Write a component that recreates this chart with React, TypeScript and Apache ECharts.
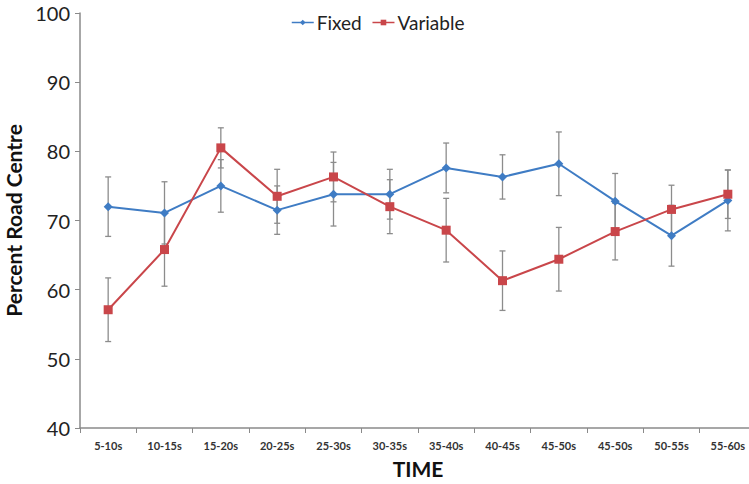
import React, { useEffect, useRef } from "react";
import * as echarts from "echarts";

const categories = ["5-10s", "10-15s", "15-20s", "20-25s", "25-30s", "30-35s", "35-40s", "40-45s", "45-50s", "45-50s", "50-55s", "55-60s"];
const fixedValues = [72.0, 71.1, 75.0, 71.5, 73.8, 73.8, 77.6, 76.3, 78.2, 72.8, 67.8, 72.9];
const fixedErrors = [4.3, 4.5, 3.8, 3.5, 4.6, 3.6, 3.6, 3.2, 4.6, 4.0, 4.4, 4.4];
const variableValues = [57.1, 65.8, 80.5, 73.5, 76.3, 72.0, 68.6, 61.3, 64.4, 68.4, 71.6, 73.8];
const variableErrors = [4.6, 5.3, 2.9, 3.9, 3.6, 3.9, 4.6, 4.3, 4.6, 4.1, 3.5, 3.5];
const yTicks = [40, 50, 60, 70, 80, 90, 100];

const FONT = "Lato, 'Open Sans', sans-serif";
const BLUE = "#3f7cc4";
const RED = "#c9464a";
const ERR = "#8c8c8c";

function errData(vals: number[], errs: number[]) {
  return vals.map((v, i) => [i, v - errs[i], v + errs[i]]);
}

function renderErr(params: any, api: any) {
  const x = api.value(0);
  const lo = api.coord([x, api.value(1)]);
  const hi = api.coord([x, api.value(2)]);
  const cap = 3;
  const style = { stroke: ERR, lineWidth: 1.3 };
  return {
    type: "group",
    children: [
      { type: "line", shape: { x1: lo[0], y1: lo[1], x2: hi[0], y2: hi[1] }, style },
      { type: "line", shape: { x1: lo[0] - cap, y1: lo[1], x2: lo[0] + cap, y2: lo[1] }, style },
      { type: "line", shape: { x1: hi[0] - cap, y1: hi[1], x2: hi[0] + cap, y2: hi[1] }, style },
    ],
  };
}

export default function App() {
  const ref = useRef<HTMLDivElement>(null);
  useEffect(() => {
    document.body.style.margin = "0";
    const chart = echarts.init(ref.current!, null, { renderer: "svg" });
    chart.setOption({
      animation: false,
      backgroundColor: "#ffffff",
      legend: {
        top: 8,
        left: 286,
        itemWidth: 22,
        itemHeight: 7,
        itemGap: 10,
        lineStyle: { width: 1.5 },
        textStyle: { fontFamily: FONT, fontSize: 19, color: "#222", padding: [0, 0, 0, -2] },
        data: ["Fixed", "Variable"],
      },
      grid: { left: 80, top: 13, width: 676, height: 415, containLabel: false, outerBoundsMode: "none" },
      xAxis: {
        type: "category",
        data: categories,
        boundaryGap: true,
        name: "TIME",
        nameLocation: "middle",
        nameGap: 30,
        nameTextStyle: { fontFamily: FONT, fontSize: 21, fontWeight: "bold", color: "#111" },
        axisLine: { lineStyle: { color: "#8a8a8a", width: 1.5 } },
        axisTick: { show: true, alignWithLabel: false, length: 5, lineStyle: { color: "#8a8a8a" } },
        axisLabel: { fontFamily: FONT, fontSize: 11, fontWeight: "bold", color: "#333", margin: 12, interval: 0 },
        splitLine: { show: false },
      },
      yAxis: {
        type: "value",
        min: 40,
        max: 100,
        interval: 10,
        name: "Percent Road Centre",
        nameLocation: "middle",
        nameGap: 54,
        nameTextStyle: { fontFamily: FONT, fontSize: 21, fontWeight: "bold", color: "#111" },
        axisLine: { show: true, lineStyle: { color: "#8a8a8a", width: 1.5 } },
        axisTick: { show: true, length: 5, lineStyle: { color: "#8a8a8a" } },
        axisLabel: {
          fontFamily: FONT,
          fontSize: 20,
          color: "#222",
          margin: 10,
          formatter: (v: number) => (yTicks.includes(v) ? String(v) : ""),
        },
        splitLine: { show: false },
      },
      series: [
        {
          type: "custom",
          name: "errFixed",
          renderItem: renderErr,
          data: errData(fixedValues, fixedErrors),
          encode: { x: 0, y: [1, 2] },
          z: 1,
          silent: true,
        },
        {
          type: "custom",
          name: "errVariable",
          renderItem: renderErr,
          data: errData(variableValues, variableErrors),
          encode: { x: 0, y: [1, 2] },
          z: 1,
          silent: true,
        },
        {
          type: "line",
          name: "Fixed",
          data: fixedValues,
          symbol: "diamond",
          symbolSize: 9,
          color: BLUE,
          lineStyle: { color: BLUE, width: 2 },
          itemStyle: { color: BLUE },
          z: 3,
        },
        {
          type: "line",
          name: "Variable",
          data: variableValues,
          symbol: "rect",
          symbolSize: 9,
          color: RED,
          lineStyle: { color: RED, width: 2 },
          itemStyle: { color: RED },
          z: 4,
        },
      ],
    });
    return () => chart.dispose();
  }, []);
  return <div ref={ref} style={{ position: "absolute", left: 0, top: 0, width: 749, height: 484 }} />;
}
